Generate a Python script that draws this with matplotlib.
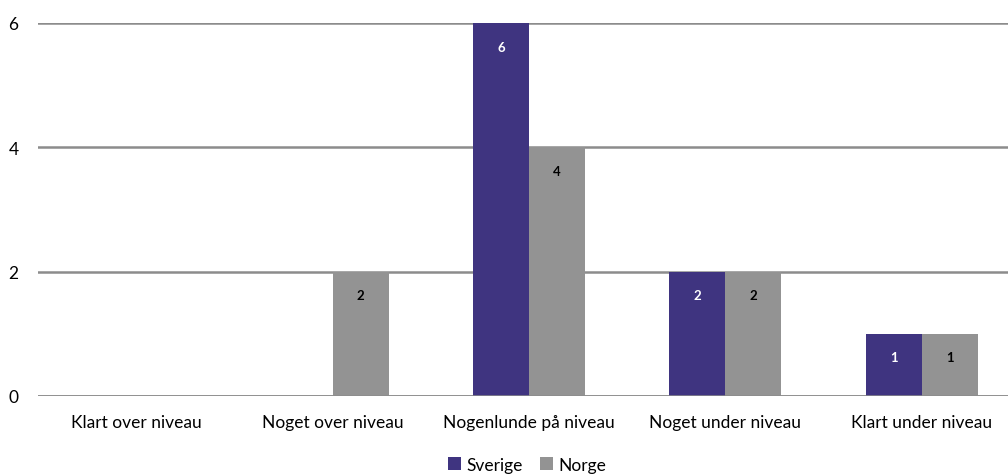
import numpy as np
import matplotlib.pyplot as plt

kategorier = ["Klart over niveau", "Noget over niveau", "Nogenlunde på niveau",
              "Noget under niveau", "Klart under niveau"]
sverige = [0, 0, 6, 2, 1]
norge = [0, 2, 4, 2, 1]

lilla = "#3f3480"
graa = "#939393"

plt.rcParams['font.family'] = ['Lato', 'DejaVu Sans']

fig = plt.figure(figsize=(10.08, 4.77), dpi=100)
ax = fig.add_axes([38/1008, 1-397/477, 982/1008, (397-24)/477])

x = np.arange(len(kategorier))
b = 0.285
s1 = ax.bar(x - b/2, sverige, b, color=lilla, label="Sverige", zorder=3)
s2 = ax.bar(x + b/2, norge, b, color=graa, label="Norge", zorder=3)

# tal inde i søjlerne, lidt under toppen
for bars, vals, farve in [(s1, sverige, "white"), (s2, norge, "black")]:
    for r, v in zip(bars, vals):
        if v > 0:
            ax.annotate(str(v), (r.get_x() + r.get_width()/2, v),
                        xytext=(0, -17), textcoords="offset points",
                        ha="center", va="center", fontsize=9.5, color=farve,
                        fontweight="bold", zorder=4)

ax.set_xlim(-0.5, 4.5)
ax.set_ylim(0, 6)
ax.set_yticks([0, 2, 4, 6])
ax.set_xticks(x)
ax.set_xticklabels(kategorier, fontsize=12.5)
ax.tick_params(axis="y", labelsize=12.5, length=0, pad=14)
ax.tick_params(axis="x", length=0, pad=13)
ax.yaxis.grid(True, color="#8c8c8c", linewidth=1.8, zorder=0)
for sp in ax.spines.values():
    sp.set_visible(False)
ax.axhline(0, color="#8c8c8c", linewidth=1.8, zorder=5)

fig.legend(loc="lower center", bbox_to_anchor=(0.523, -0.026), ncol=2, frameon=False,
           fontsize=12.5, handlelength=0.75, handleheight=0.75, handletextpad=0.3,
           columnspacing=1.0)

fig.savefig("out.png", dpi=100)
